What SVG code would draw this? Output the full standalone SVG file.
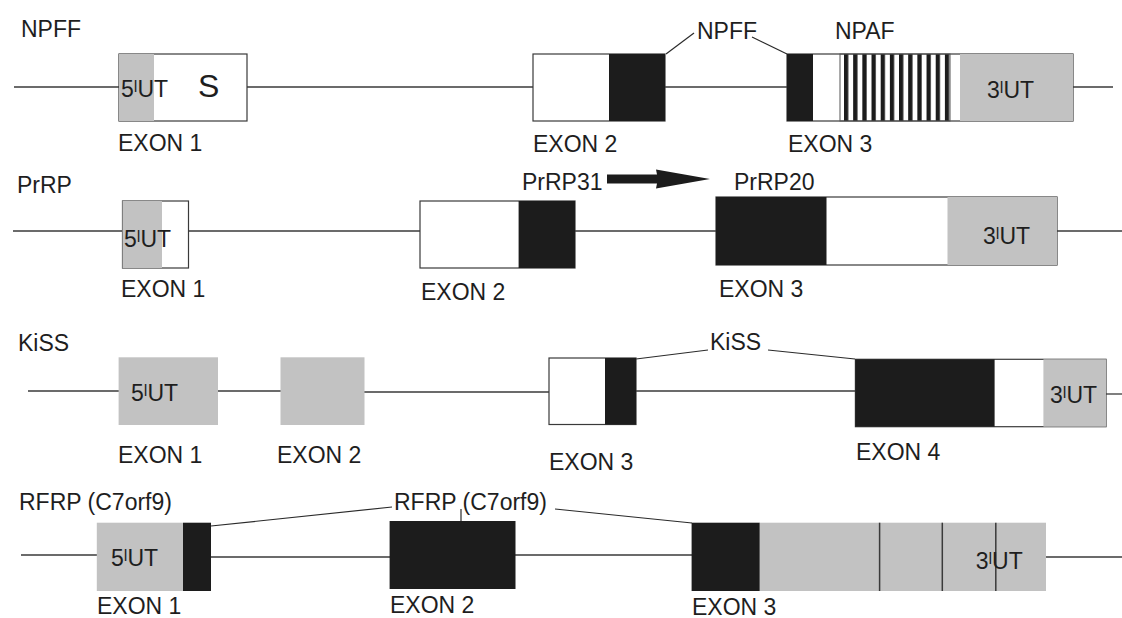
<svg xmlns="http://www.w3.org/2000/svg" width="1122" height="618" viewBox="0 0 1122 618">
<style>
text{font-family:"Liberation Sans",Arial,sans-serif;font-size:23px;fill:#1e1e1e}
.big{font-size:32px}
.w{fill:#fff;stroke:#3a3a3a;stroke-width:1.2}
.k{fill:#1c1c1c}
.g{fill:#c2c2c2}
.ln{stroke:#3a3a3a;stroke-width:1.3;fill:none}
.sl{stroke:#2a2a2a;stroke-width:1.2;fill:none}
.vl{stroke:#3a3a3a;stroke-width:1.5}
</style>
<defs>
<pattern id="stripes" x="844" y="0" width="9.17" height="10" patternUnits="userSpaceOnUse">
<rect x="0" y="0" width="4.3" height="10" fill="#1c1c1c"/>
</pattern>
</defs>
<rect width="1122" height="618" fill="#fff"/>

<g id="connectors">
<line class="ln" x1="14" y1="87" x2="119" y2="87"/>
<line class="ln" x1="247" y1="87" x2="533" y2="87"/>
<line class="ln" x1="665" y1="87" x2="787" y2="87"/>
<line class="ln" x1="1073" y1="87" x2="1113" y2="87"/>
<line class="sl" x1="666" y1="54" x2="694" y2="33"/>
<line class="sl" x1="752" y1="37" x2="787" y2="54"/>
<line class="ln" x1="13" y1="231" x2="122" y2="231"/>
<line class="ln" x1="189" y1="231" x2="420" y2="231"/>
<line class="ln" x1="575" y1="231" x2="716" y2="231"/>
<line class="ln" x1="1057" y1="231" x2="1122" y2="231"/>
<path d="M607 174.5 L657 174.5 L656 169.5 L710 179 L656 188.5 L657 183.5 L607 183.5 Z" fill="#1c1c1c"/>
<line class="ln" x1="28" y1="391" x2="119" y2="391"/>
<line class="ln" x1="218" y1="391" x2="281" y2="391"/>
<line class="ln" x1="364" y1="392" x2="549" y2="392"/>
<line class="ln" x1="636" y1="391" x2="855" y2="391"/>
<line class="ln" x1="1106" y1="394" x2="1122" y2="394"/>
<line class="sl" x1="636" y1="359" x2="708" y2="350"/>
<line class="sl" x1="768" y1="350" x2="855" y2="359"/>
<line class="ln" x1="21" y1="555" x2="97" y2="555"/>
<line class="ln" x1="211" y1="557" x2="390" y2="557"/>
<line class="ln" x1="515" y1="555" x2="692" y2="555"/>
<line class="ln" x1="1046" y1="557" x2="1122" y2="557"/>
<line class="sl" x1="211" y1="526" x2="392" y2="507"/>
<line class="sl" x1="461" y1="509" x2="461" y2="521"/>
<line class="sl" x1="555" y1="509" x2="692" y2="523"/>
</g>

<g id="titles">
<text x="21" y="37">NPFF</text>
<text x="17" y="193">PrRP</text>
<text x="18" y="351">KiSS</text>
<text x="19" y="510">RFRP (C7orf9)</text>
</g>

<g id="labels">
<text x="697" y="39">NPFF</text>
<text x="835" y="39">NPAF</text>
<text x="522" y="190">PrRP31</text>
<text x="734" y="190">PrRP20</text>
<text x="710" y="350">KiSS</text>
<text x="394" y="510">RFRP (C7orf9)</text>
</g>

<g id="npff-exon1">
<rect class="w" x="119" y="54" width="128" height="67"/>
<rect class="g" x="119" y="54" width="35" height="67"/>
<text x="121" y="97">5ˡUT</text>
<text class="big" x="198" y="97">S</text>
<text x="118" y="151">EXON 1</text>
</g>
<g id="npff-exon2">
<rect class="w" x="533" y="54" width="132" height="67"/>
<rect class="k" x="609" y="54" width="56" height="67"/>
<text x="533" y="152">EXON 2</text>
</g>
<g id="npff-exon3">
<rect class="w" x="787" y="54" width="286" height="67"/>
<rect class="k" x="787" y="54" width="26" height="67"/>
<rect x="840" y="54" width="110" height="67" fill="url(#stripes)" stroke="#555" stroke-width="1"/>
<rect class="g" x="960" y="54" width="113" height="67"/>
<text x="987" y="98">3ˡUT</text>
<text x="788" y="152">EXON 3</text>
</g>

<g id="prrp-exon1">
<rect class="w" x="122.5" y="201" width="66" height="67"/>
<rect class="g" x="122.5" y="201" width="39.5" height="67"/>
<text x="124" y="247">5ˡUT</text>
<text x="121" y="297">EXON 1</text>
</g>
<g id="prrp-exon2">
<rect class="w" x="420" y="201" width="155" height="67"/>
<rect class="k" x="518.6" y="201" width="56.4" height="67"/>
<text x="421" y="300">EXON 2</text>
</g>
<g id="prrp-exon3">
<rect class="w" x="716" y="197" width="341" height="68"/>
<rect class="k" x="716" y="197" width="110.5" height="68"/>
<rect class="g" x="947.5" y="197" width="109.5" height="68"/>
<text x="983" y="244">3ˡUT</text>
<text x="719" y="297">EXON 3</text>
</g>

<g id="kiss-exon1">
<rect class="g" x="118.6" y="357.3" width="99.4" height="67.7"/>
<text x="131" y="401">5ˡUT</text>
<text x="118" y="463">EXON 1</text>
</g>
<g id="kiss-exon2">
<rect class="g" x="280.5" y="357.3" width="84" height="67.7"/>
<text x="277" y="463">EXON 2</text>
</g>
<g id="kiss-exon3">
<rect class="w" x="549" y="358" width="87" height="66.5"/>
<rect class="k" x="605" y="358" width="31" height="66.5"/>
<text x="549" y="470">EXON 3</text>
</g>
<g id="kiss-exon4">
<rect class="w" x="855.4" y="359.3" width="250.6" height="67.4"/>
<rect class="k" x="855.4" y="359.3" width="139.2" height="67.4"/>
<rect class="g" x="1043.4" y="359.3" width="62.6" height="67.4"/>
<text x="1050" y="403">3ˡUT</text>
<text x="856" y="460">EXON 4</text>
</g>

<g id="rfrp-exon1">
<rect class="g" x="96.8" y="522.7" width="86.2" height="68.3"/>
<rect class="k" x="183" y="522.7" width="28" height="68.3"/>
<text x="111" y="566">5ˡUT</text>
<text x="97" y="614">EXON 1</text>
</g>
<g id="rfrp-exon2">
<rect class="k" x="389.6" y="521" width="125.9" height="68"/>
<text x="390" y="613">EXON 2</text>
</g>
<g id="rfrp-exon3">
<rect class="k" x="691.6" y="522.7" width="68.2" height="68.3"/>
<rect class="g" x="759.8" y="522.7" width="286.2" height="68.3"/>
<line class="vl" x1="879.6" y1="522.7" x2="879.6" y2="591"/>
<line class="vl" x1="942.3" y1="522.7" x2="942.3" y2="591"/>
<line class="vl" x1="995.8" y1="522.7" x2="995.8" y2="591"/>
<text x="975.7" y="569">3ˡUT</text>
<text x="692" y="615">EXON 3</text>
</g>
</svg>
